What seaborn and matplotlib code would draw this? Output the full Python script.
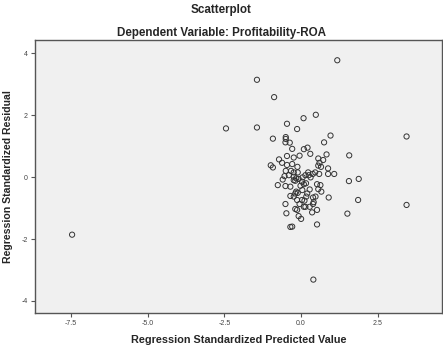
import matplotlib
matplotlib.use("Agg")
import matplotlib.pyplot as plt
import seaborn as sns
import pandas as pd

# Data
pred = [1.18, -1.44, -0.88, -2.45, -1.44, -0.46, -0.13, 0.08, 0.48, -0.92,
        -0.50, -0.50, -0.51, -0.37, 0.96, 0.75, -0.29, 0.09, 0.21, 0.30,
        -0.05, 0.83, 1.57, -0.72, -0.62, -0.46, -0.24, 0.56, 0.72, 0.60,
        -0.99, -0.92,
        -0.46, -0.29, -0.12, 0.56, 0.65, 0.88, -0.50, -0.33, -0.24, -0.11,
        0.23, 0.38, 0.46, 0.59, 0.88, 1.08, -0.54, -0.40, -0.24, -0.16,
        -0.08, 0.05, 0.14, 0.25, 0.31, -0.60, -0.24, -0.19, 0.03, 0.16,
        -0.76, -0.51, -0.35, -0.02, 0.09, 0.52, 0.63, 1.56, 1.88, 0.04,
        0.28, 0.56, 0.66, -0.16, -0.19, -0.11, 0.20, -0.35, -0.24, 0.17,
        0.39, 0.47, 0.90, -0.13, 0.03, 0.11, 0.41, 0.39, 1.86, -0.51,
        -0.05, 0.09, 0.14, 0.28, -0.19, -0.13, 0.52, 0.36, -0.48, -0.08,
        0.00, 1.51, -0.35, -0.29, 0.52,
        3.44, 3.44, 0.40, -7.47]
resid = [3.77, 3.14, 2.58, 1.57, 1.60, 1.72, 1.55, 1.90, 2.01, 1.24,
         1.29, 1.23, 1.12, 1.11, 1.34, 1.12, 0.91, 0.90, 0.95, 0.75,
         0.69, 0.73, 0.70, 0.57, 0.46, 0.68, 0.63, 0.60, 0.55, 0.46,
         0.38, 0.31,
         0.39, 0.42, 0.33, 0.37, 0.33, 0.28, 0.20, 0.20, 0.15, 0.15,
         0.15, 0.10, 0.15, 0.10, 0.10, 0.10, 0.03, 0.06, 0.01, -0.04,
         -0.06, -0.01, 0.06, 0.06, -0.01, -0.08, -0.10, -0.12, -0.15, -0.20,
         -0.26, -0.29, -0.31, -0.28, -0.23, -0.23, -0.26, -0.13, -0.06, -0.42,
         -0.40, -0.39, -0.47, -0.47, -0.53, -0.51, -0.53, -0.61, -0.63, -0.63,
         -0.66, -0.63, -0.66, -0.74, -0.74, -0.76, -0.81, -0.87, -0.74, -0.87,
         -0.87, -0.96, -0.96, -0.96, -1.03, -1.06, -1.06, -1.14, -1.17, -1.26,
         -1.35, -1.18, -1.61, -1.60, -1.53,
         1.31, -0.90, -3.31, -1.86]

x_ticks = [-7.5, -5.0, -2.5, 0.0, 2.5]
x_tick_labels = ["-7.5", "-5.0", "-2.5", "0.0", "2.5"]
y_ticks = [-4, -2, 0, 2, 4]
y_tick_labels = ["-4", "-2", "0", "2", "4"]

title = "Scatterplot"
subtitle = "Dependent Variable: Profitability-ROA"
xlabel = "Regression Standardized Predicted Value"
ylabel = "Regression Standardized Residual"

df = pd.DataFrame({"pred": pred, "resid": resid})

sns.set_style("white")
plt.rcParams["font.family"] = ["Liberation Sans", "DejaVu Sans"]

fig = plt.figure(figsize=(4.43, 3.49), dpi=100)
fig.patch.set_facecolor("white")
ax = fig.add_axes([0.079, 0.103, 0.919, 0.782])
ax.set_facecolor("#F0F0F0")

sns.scatterplot(data=df, x="pred", y="resid", ax=ax, marker="o", s=14,
                facecolor="none", edgecolor="#333333", linewidth=0.7)

ax.set_xlim(-8.68, 4.6)
ax.set_ylim(-4.39, 4.42)
ax.set_xticks(x_ticks)
ax.set_xticklabels(x_tick_labels)
ax.set_yticks(y_ticks)
ax.set_yticklabels(y_tick_labels)
ax.tick_params(axis="both", direction="out", length=3, width=0.8,
               labelsize=5, labelcolor="#444444", color="#555555", pad=2)
ax.tick_params(left=True, bottom=True)

for sp in ax.spines.values():
    sp.set_color("#555555")
    sp.set_linewidth(1.0)

ax.set_xlabel(xlabel, fontsize=7.8, fontweight="bold", labelpad=6)
ax.set_ylabel(ylabel, fontsize=7.6, fontweight="bold", labelpad=6)

fig.text(0.5, 0.970, title, ha="center", va="center", fontsize=8.4, fontweight="bold")
fig.text(0.5, 0.905, subtitle, ha="center", va="center", fontsize=8.4, fontweight="bold")

fig.savefig("out.png", dpi=100)
